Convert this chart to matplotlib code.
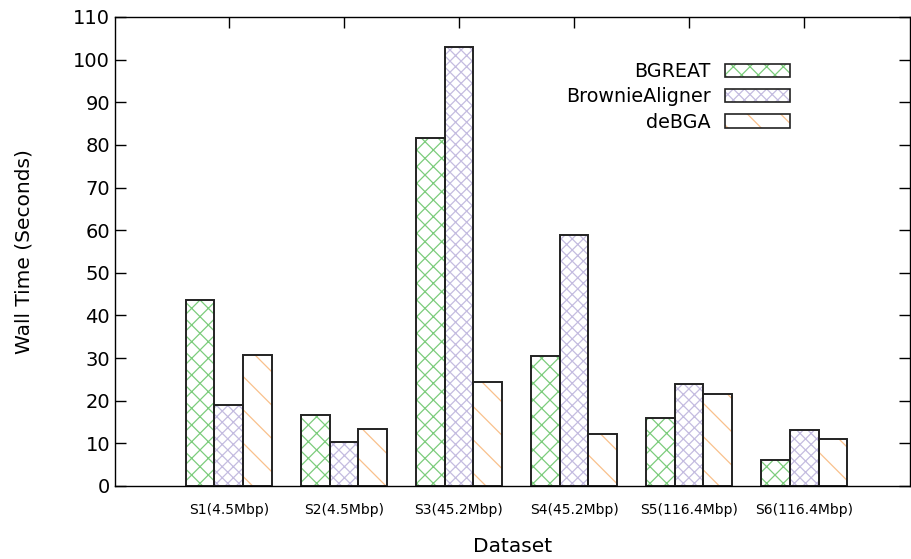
import numpy as np
import matplotlib
matplotlib.use("Agg")
import matplotlib.pyplot as plt
from matplotlib.patches import Patch
from matplotlib.legend_handler import HandlerTuple

# wall time per dataset (seconds)
datasets = ["S1(4.5Mbp)", "S2(4.5Mbp)", "S3(45.2Mbp)", "S4(45.2Mbp)",
            "S5(116.4Mbp)", "S6(116.4Mbp)"]
bgreat = [43.7, 16.7, 81.7, 30.5, 16.0, 6.1]
brownie = [19.0, 10.3, 103.0, 58.8, 23.9, 13.1]
debga = [30.8, 13.4, 24.4, 12.2, 21.6, 11.0]

names = ["BGREAT", "BrownieAligner", "deBGA"]
hatch_cols = ["#7ccc7c", "#c4bce0", "#f9c08c"]
hatches = ["xx", "xxx", "\\"]

plt.rcParams["hatch.linewidth"] = 0.9

fig = plt.figure(figsize=(9.11, 5.59), dpi=100)
ax = fig.add_axes([0.1262, 0.1306, 0.8727, 0.839])

x = np.arange(len(datasets))
w = 0.25
handles = []
for i, vals in enumerate([bgreat, brownie, debga]):
    pos = x + (i - 1) * w
    # hatch layer, then black outline on top
    ax.bar(pos, vals, w, color="white", edgecolor=hatch_cols[i],
           hatch=hatches[i], linewidth=0, zorder=2)
    ax.bar(pos, vals, w, fill=False, edgecolor="#222222", linewidth=1.4, zorder=3)
    h1 = Patch(facecolor="white", edgecolor=hatch_cols[i], hatch=hatches[i], linewidth=0)
    h2 = Patch(fill=False, edgecolor="#222222", linewidth=1.2)
    handles.append((h1, h2))

ax.set_xlim(-0.99, 5.92)
ax.set_ylim(0, 110)
ax.set_yticks(range(0, 111, 10))
ax.set_xticks(x)
ax.set_xticklabels(datasets, fontsize=10)
ax.tick_params(axis="y", labelsize=14, direction="in", length=8, right=True, width=1)
ax.tick_params(axis="x", direction="in", length=8, top=True, width=1, pad=12)
for s in ax.spines.values():
    s.set_linewidth(1.0)
    s.set_zorder(4)

ax.set_ylabel("Wall Time (Seconds)", fontsize=14.5, va="center")
ax.set_xlabel("Dataset", fontsize=14.5, va="center")
ax.yaxis.set_label_coords(-0.1145, 0.5)
ax.xaxis.set_label_coords(0.5, -0.13)

leg = ax.legend(handles, names,
                handler_map={tuple: HandlerTuple(ndivide=1, pad=0)},
                loc="upper right", bbox_to_anchor=(790 / 911, 1 - 62 / 559),
                bbox_transform=fig.transFigure, frameon=False, markerfirst=False,
                fontsize=13.8, handlelength=3.4, handleheight=0.7,
                handletextpad=0.75, labelspacing=0.33, borderpad=0, borderaxespad=0)

fig.savefig("out.png", dpi=100)
